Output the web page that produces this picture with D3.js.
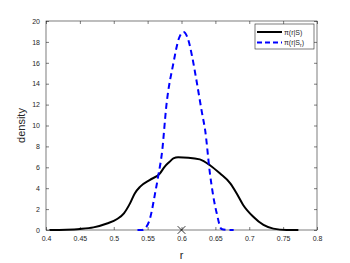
<!DOCTYPE html>
<html>
<head>
<meta charset="utf-8">
<script src="https://cdn.jsdelivr.net/npm/d3@7"></script>
<style>
  body { margin: 0; background: #fff; }
  svg { display: block; font-family: "Liberation Sans", Arial, sans-serif; }
</style>
</head>
<body>
<div id="chart"></div>
<script>
// Density of r given S (black, solid)
const rS = [0.405, 0.43, 0.45, 0.47, 0.49, 0.505, 0.515, 0.524, 0.531, 0.539, 0.5535, 0.568, 0.575, 0.582, 0.588, 0.595, 0.61, 0.627, 0.642, 0.657, 0.672, 0.6815, 0.691, 0.706, 0.721, 0.7355, 0.755, 0.7725];
const densS = [0.0, 0.03, 0.1, 0.25, 0.62, 1.05, 1.6, 2.55, 3.5, 4.15, 4.8, 5.4, 6.05, 6.5, 6.85, 6.95, 6.92, 6.76, 6.2, 5.4, 4.47, 3.5, 2.4, 1.27, 0.48, 0.13, 0.0, 0.0];

// Density of r given S_r (blue, dashed)
const rSr = [0.535, 0.541, 0.546, 0.5535, 0.561, 0.566, 0.571, 0.578, 0.588, 0.596, 0.603, 0.61, 0.616, 0.622, 0.63, 0.635, 0.642, 0.647, 0.652, 0.659, 0.666, 0.677];
const densSr = [0.0, 0.0, 0.15, 1.1, 3.5, 5.3, 7.3, 12.1, 15.95, 18.3, 18.95, 18.2, 16.5, 14.35, 11.3, 9.5, 5.4, 3.2, 1.6, 0.1, 0.02, 0.0];

const xTicks = [0.4, 0.45, 0.5, 0.55, 0.6, 0.65, 0.7, 0.75, 0.8];
const yTicks = [0, 2, 4, 6, 8, 10, 12, 14, 16, 18, 20];
const markerR = 0.6;

const width = 350, height = 263;
const margin = { top: 21, right: 33, bottom: 33, left: 46 };
const w = width - margin.left - margin.right;
const h = height - margin.top - margin.bottom;

const svg = d3.select("#chart").append("svg")
    .attr("width", width)
    .attr("height", height);

const g = svg.append("g")
    .attr("transform", `translate(${margin.left},${margin.top})`);

const x = d3.scaleLinear().domain([0.4, 0.8]).range([0, w]);
const y = d3.scaleLinear().domain([0, 20]).range([h, 0]);

const axisColor = "#262626";

// axes with inward ticks on all four sides (box on)
function styleAxis(sel) {
    sel.selectAll("path, line").attr("stroke", axisColor).attr("stroke-width", 0.6);
    sel.selectAll("text").attr("fill", axisColor).style("font-size", "7px");
}

g.append("g")
    .attr("transform", `translate(0,${h})`)
    .call(d3.axisBottom(x).tickValues(xTicks).tickFormat(d3.format("")).tickSizeInner(-3).tickSizeOuter(0).tickPadding(6))
    .call(styleAxis)
    .call(s => s.select(".domain").remove());

g.append("g")
    .call(d3.axisLeft(y).tickValues(yTicks).tickSizeInner(-3).tickSizeOuter(0).tickPadding(6))
    .call(styleAxis)
    .call(s => s.select(".domain").remove());

g.append("g")
    .call(d3.axisTop(x).tickValues(xTicks).tickFormat("").tickSizeInner(-3).tickSizeOuter(0))
    .call(styleAxis)
    .call(s => s.select(".domain").remove());

g.append("g")
    .attr("transform", `translate(${w},0)`)
    .call(d3.axisRight(y).tickValues(yTicks).tickFormat("").tickSizeInner(-3).tickSizeOuter(0))
    .call(styleAxis)
    .call(s => s.select(".domain").remove());

g.append("rect")
    .attr("width", w)
    .attr("height", h)
    .attr("fill", "none")
    .attr("stroke", axisColor)
    .attr("stroke-width", 0.6);

// axis labels
svg.append("text")
    .attr("x", margin.left + w / 2)
    .attr("y", 259)
    .attr("text-anchor", "middle")
    .style("font-size", "11px")
    .attr("fill", axisColor)
    .text("r");

svg.append("text")
    .attr("transform", `translate(25,${margin.top + h / 2}) rotate(-90)`)
    .attr("text-anchor", "middle")
    .style("font-size", "11px")
    .attr("fill", axisColor)
    .text("density");

// curves
const line = d3.line()
    .x(d => x(d[0]))
    .y(d => y(d[1]))
    .curve(d3.curveMonotoneX);

g.append("path")
    .datum(d3.zip(rS, densS))
    .attr("d", line)
    .attr("fill", "none")
    .attr("stroke", "#000")
    .attr("stroke-width", 2);

g.append("path")
    .datum(d3.zip(rSr, densSr))
    .attr("d", line)
    .attr("fill", "none")
    .attr("stroke", "#0000ff")
    .attr("stroke-width", 2)
    .attr("stroke-dasharray", "6,4");

// x marker at r = 0.6
g.append("path")
    .attr("d", d3.symbol(d3.symbolX, 40)())
    .attr("transform", `translate(${x(markerR)},${y(0)})`)
    .attr("fill", "none")
    .attr("stroke", "#000")
    .attr("stroke-width", 0.8);

// legend
const legend = svg.append("g").attr("transform", "translate(255,24)");
legend.append("rect")
    .attr("width", 59)
    .attr("height", 25)
    .attr("fill", "#fff")
    .attr("stroke", axisColor)
    .attr("stroke-width", 0.6);

const items = [
    { main: "π(r|S)", sub: "", color: "#000", dash: null, close: "" },
    { main: "π(r|S", sub: "r", color: "#0000ff", dash: "5,3", close: ")" }
];
items.forEach((it, i) => {
    const row = legend.append("g").attr("transform", `translate(0,${8 + i * 10.5})`);
    row.append("line")
        .attr("x1", 2).attr("x2", 27)
        .attr("stroke", it.color)
        .attr("stroke-width", 2)
        .attr("stroke-dasharray", it.dash);
    const t = row.append("text")
        .attr("x", 29)
        .attr("y", 2.5)
        .style("font-size", "7px")
        .attr("fill", axisColor);
    t.append("tspan").text(it.main);
    if (it.sub) {
        t.append("tspan").attr("dy", 2).style("font-size", "5px").text(it.sub);
        t.append("tspan").attr("dy", -2).text(it.close);
    }
});
</script>
</body>
</html>
